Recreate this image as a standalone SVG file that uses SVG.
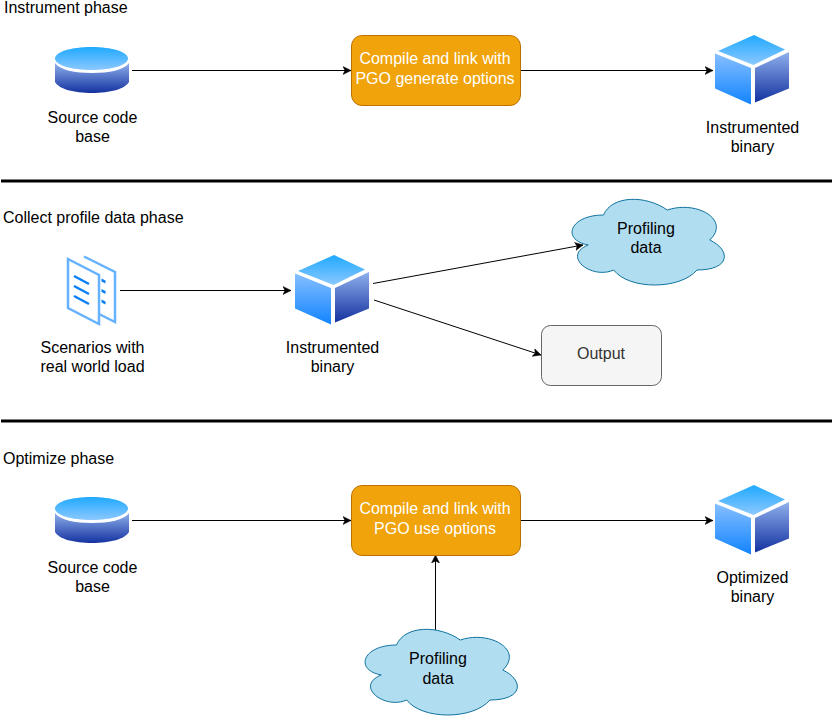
<svg xmlns="http://www.w3.org/2000/svg" xmlns:xlink="http://www.w3.org/1999/xlink" width="834" height="721" viewBox="0 0 834 721">
<style>
text{font-family:"Liberation Sans",Arial,Helvetica,sans-serif;font-size:16px;fill:#000}
.m{text-anchor:middle}
.w{fill:#fff}
.proc{fill:#f0a30a;stroke:#bd7000;stroke-width:1}
.cloud{fill:#b1ddf0;stroke:#10739e;stroke-width:1}
.sep{stroke:#000;stroke-width:3;fill:none}
.c{stroke:#000;stroke-width:1;fill:none;marker-end:url(#a)}
</style>
<defs>
<marker id="a" markerUnits="userSpaceOnUse" markerWidth="10" markerHeight="10" refX="8" refY="4.5" orient="auto"><path d="M0 0.5L8 4.5L0 8.5L2 4.5Z" fill="#000" stroke="#000" stroke-width="0.5"/></marker>
<linearGradient id="lt" x1="0" y1="0" x2="0" y2="1"><stop offset="0" stop-color="#1fa9ff"/><stop offset="1" stop-color="#8cc8ff"/></linearGradient>
<linearGradient id="dk" x1="0" y1="0" x2="0" y2="1"><stop offset="0" stop-color="#8fb0ec"/><stop offset="1" stop-color="#1432a0"/></linearGradient>
<linearGradient id="cl" x1="0" y1="0" x2="0" y2="1"><stop offset="0" stop-color="#86bfff"/><stop offset="1" stop-color="#1284ff"/></linearGradient>
<g id="cube">
<path d="M39 0.500L70 15L38.500 30.500L3 16.500Z" fill="url(#lt)"/>
<path d="M0 19L36 33.500V70L0 54Z" fill="url(#cl)"/>
<path d="M74 17.500V54L40 68V33.500Z" fill="url(#dk)"/>
</g>
<g id="db">
<path d="M0 11.500C0 5 16 0 36.500 0S73 5 73 11.500S57 23 36.500 23S0 18 0 11.500Z" fill="url(#lt)"/>
<path d="M0 16C5 23 20 26 37 26S69 23 74 16V35C70 42 55 46 37 46S4 42 0 35Z" fill="url(#dk)"/>
</g>
<path id="cloudp" d="M42.500 25C8.500 25 0 50 27.200 55C0 66 30.600 90 52.700 80C68 100 119 100 136 80C170 80 170 60 148.750 50C170 30 136 10 106.250 20C85 5 51 5 42.500 25Z"/>
</defs>
<g id="separators">
<path class="sep" d="M1 181H832M1 421H832"/>
</g>
<g id="labels">
<text x="4" y="13">Instrument phase</text>
<text x="3" y="223">Collect profile data phase</text>
<text x="3" y="464">Optimize phase</text>
</g>
<g id="connectors">
<path class="c" d="M132 70.500H351"/>
<path class="c" d="M521 70.500H713"/>
<path class="c" d="M120 290.500H291"/>
<path class="c" d="M373 283.500L583 245"/>
<path class="c" d="M374 300L541 355"/>
<path class="c" d="M132 520.500H351"/>
<path class="c" d="M521 520.500H713"/>
<path class="c" d="M435.500 630V555"/>
</g>
<g id="source1"><use xlink:href="#db" href="#db" x="55" y="47"/><text class="m" x="92.500" y="123">Source code</text><text class="m" x="92.500" y="142">base</text></g>
<g id="compile1"><rect class="proc" x="351.500" y="35.500" width="169" height="70" rx="10.500"/><text class="m w" x="435" y="64">Compile and link with</text><text class="m w" x="435" y="84">PGO generate options</text></g>
<g id="binary1"><use xlink:href="#cube" href="#cube" x="715" y="34.500"/><text class="m" x="752.500" y="133">Instrumented</text><text class="m" x="752.500" y="152">binary</text></g>
<g id="scenarios">
<path d="M84 256.500L115 272V322L99 314" fill="none" stroke="#66b2ff" stroke-width="2.500"/>
<path d="M68 259L99 275V324L68 308Z" fill="#fff" stroke="#66b2ff" stroke-width="2.500"/>
<path d="M74 276L89 284M74 286L89 294M74 296L89 304" stroke="#0a7ff5" stroke-width="2.500" fill="none"/>
<path d="M101.500 278.500l4 2v3l-4-2ZM101.500 289l4 2v3l-4-2ZM101.500 299.500l4 2v3l-4-2Z" fill="#0a7ff5"/>
<text class="m" x="92.500" y="353">Scenarios with</text><text class="m" x="92.500" y="372">real world load</text></g>
<g id="binary2"><use xlink:href="#cube" href="#cube" x="295" y="254.500"/><text class="m" x="332.500" y="353">Instrumented</text><text class="m" x="332.500" y="372">binary</text></g>
<g id="cloud1"><use class="cloud" xlink:href="#cloudp" href="#cloudp" x="561" y="190"/><text class="m" x="646" y="234">Profiling</text><text class="m" x="646" y="253">data</text></g>
<g id="output"><rect x="541.500" y="325.500" width="120" height="60" rx="9" fill="#f5f5f5" stroke="#666"/><text class="m" x="601" y="359" style="fill:#333">Output</text></g>
<g id="source2"><use xlink:href="#db" href="#db" x="55" y="497"/><text class="m" x="92.500" y="573">Source code</text><text class="m" x="92.500" y="592">base</text></g>
<g id="compile2"><rect class="proc" x="351.500" y="485.500" width="169" height="70" rx="10.500"/><text class="m w" x="435" y="514">Compile and link with</text><text class="m w" x="435" y="534">PGO use options</text></g>
<g id="binary3"><use xlink:href="#cube" href="#cube" x="715" y="484.500"/><text class="m" x="752.500" y="583">Optimized</text><text class="m" x="752.500" y="602">binary</text></g>
<g id="cloud2"><use class="cloud" xlink:href="#cloudp" href="#cloudp" x="354" y="620"/><text class="m" x="438" y="664">Profiling</text><text class="m" x="438" y="684">data</text></g>
</svg>
